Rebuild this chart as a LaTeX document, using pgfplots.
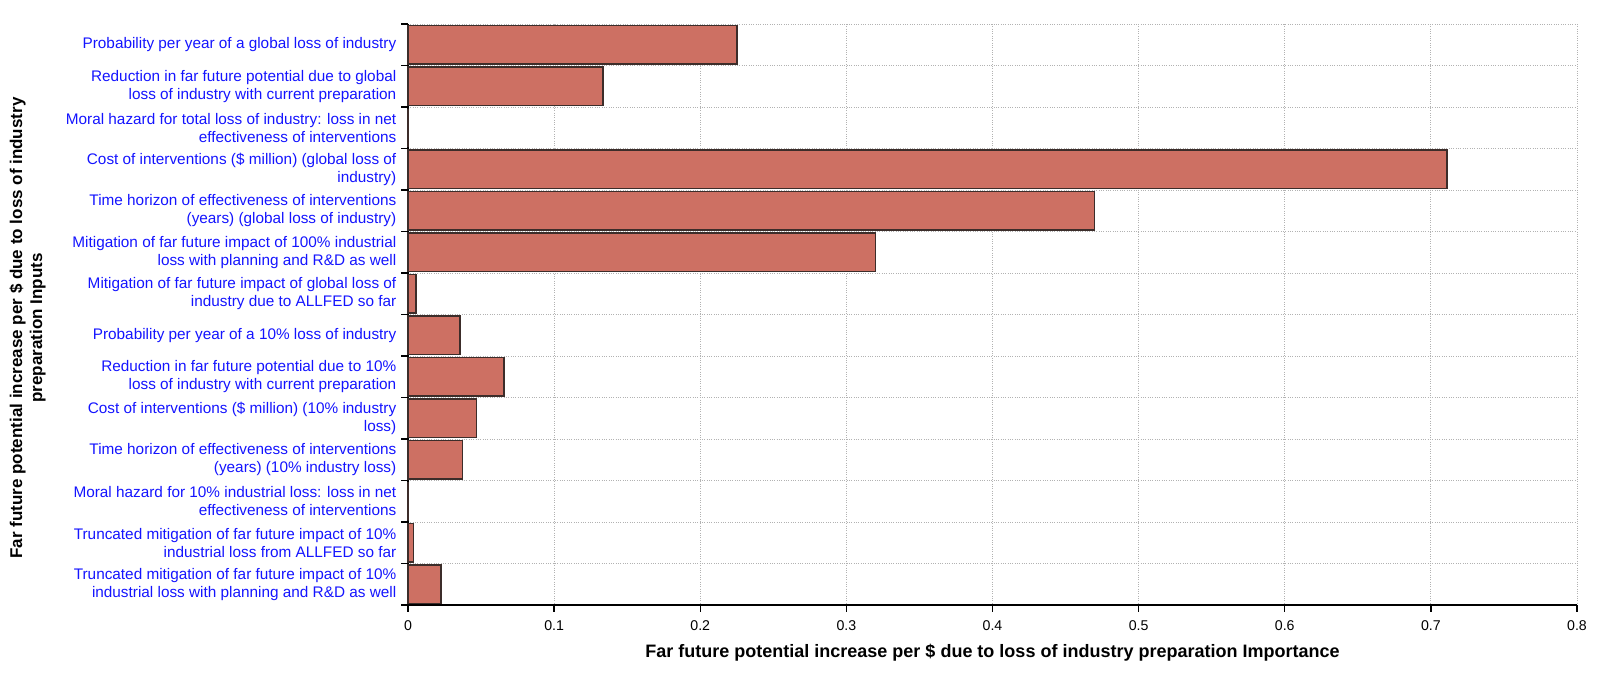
\documentclass[border=0pt]{standalone}
\usepackage{pgfplots}
\pgfplotsset{compat=1.18}
\usepackage{fontspec}
\setmainfont{Liberation Sans}
\definecolor{barfill}{RGB}{205,112,99}
\definecolor{baredge}{RGB}{60,45,42}
\definecolor{lblblue}{RGB}{20,20,255}
\begin{document}
\begin{tikzpicture}
\useasboundingbox (0,0) rectangle (960pt,404.4pt);
\begin{axis}[
  at={(244.8pt,41.4pt)}, anchor=south west,
  scale only axis,
  width=701.4pt, height=348.6pt,
  xmin=0, xmax=0.8,
  ymin=0.5, ymax=14.5,
  y dir=reverse,
  axis x line*=bottom, axis y line*=left,
  axis line style={-, line width=1.1pt, black},
  xtick={0,0.1,...,0.8},
  xticklabels={0,0.1,0.2,0.3,0.4,0.5,0.6,0.7,0.8},
  ytick={0.5,1.5,...,14.5},
  yticklabels={},
  tick align=outside,
  major tick length=4pt,
  tick style={black, line width=0.8pt},
  xmajorgrids, ymajorgrids,
  grid style={densely dotted, gray!60, line width=0.5pt},
  xticklabel style={font=\fontsize{8.5}{9}\selectfont, yshift=-2pt},
  /pgf/number format/assume math mode=true,
  extra y ticks={1,2,...,14},
  extra y tick style={major tick length=0pt, grid=none,
    yticklabel style={font=\fontsize{9.2}{11}\selectfont, text=lblblue, align=right, xshift=-3.5pt}},
  extra y tick labels={
    {Probability per year of a global loss of industry},
    {Reduction in far future potential due to global\\loss of industry with current preparation},
    {Moral hazard for total loss of industry: loss in net\\effectiveness of interventions},
    {Cost of interventions (\$ million) (global loss of\\industry)},
    {Time horizon of effectiveness of interventions\\(years) (global loss of industry)},
    {Mitigation of far future impact of 100\% industrial\\loss with planning and R\&D as well},
    {Mitigation of far future impact of global loss of\\industry due to ALLFED so far},
    {Probability per year of a 10\% loss of industry},
    {Reduction in far future potential due to 10\%\\loss of industry with current preparation},
    {Cost of interventions (\$ million) (10\% industry\\loss)},
    {Time horizon of effectiveness of interventions\\(years) (10\% industry loss)},
    {Moral hazard for 10\% industrial loss: loss in net\\effectiveness of interventions},
    {Truncated mitigation of far future impact of 10\%\\industrial loss from ALLFED so far},
    {Truncated mitigation of far future impact of 10\%\\industrial loss with planning and R\&D as well}
  },
  xlabel={Far future potential increase per \$ due to loss of industry preparation Importance},
  xlabel style={font=\bfseries\fontsize{10.8}{12}\selectfont, at={(rel axis cs:0.5,0)}, anchor=center, yshift=-28.8pt},
  clip=false,
]
\addplot[xbar, bar width=23.1pt, bar shift=0pt, fill=barfill, draw=baredge, line width=0.8pt]
coordinates {
(0.2252,1)
(0.1335,2)
(0,3)
(0.711,4)
(0.470,5)
(0.320,6)
(0.0055,7)
(0.0356,8)
(0.0657,9)
(0.047,10)
(0.0372,11)
(0,12)
(0.0036,13)
(0.0226,14)
};
\end{axis}
\node[rotate=90, align=center, font=\bfseries\fontsize{10.2}{12}\selectfont] at (16.5pt,207.6pt)
  {Far future potential increase per \$ due to loss of industry\\preparation Inputs};
\end{tikzpicture}
\end{document}
